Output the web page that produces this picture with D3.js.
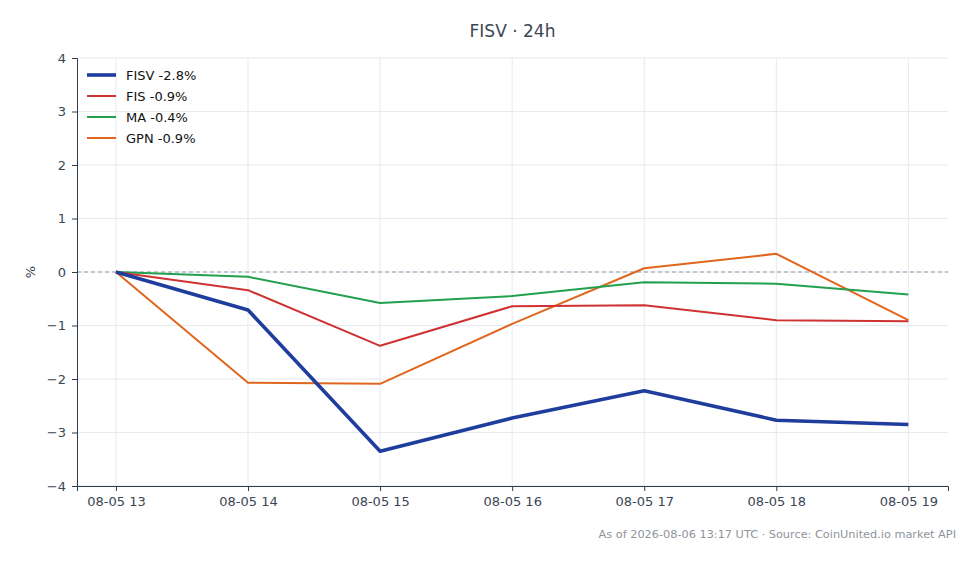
<!DOCTYPE html>
<html>
<head>
<meta charset="utf-8">
<script src="https://cdn.jsdelivr.net/npm/d3@7"></script>
<style>
  body { margin: 0; background: #fff; }
  text { font-family: "DejaVu Sans", sans-serif; }
</style>
</head>
<body>
<div class="chart"></div>
<script>
var hours = ["08-05 13", "08-05 14", "08-05 15", "08-05 16", "08-05 17", "08-05 18", "08-05 19"];
var fisv = [0, -0.71, -3.35, -2.73, -2.22, -2.77, -2.85];
var fis = [0, -0.34, -1.38, -0.64, -0.62, -0.90, -0.92];
var ma = [0, -0.09, -0.58, -0.45, -0.19, -0.22, -0.42];
var gpn = [0, -2.07, -2.09, -0.97, 0.07, 0.34, -0.90];
var yTicks = [-4, -3, -2, -1, 0, 1, 2, 3, 4];

var series = [
  { name: "FISV -2.8%", values: fisv, color: "#1f3d9c", width: 3.6 },
  { name: "FIS -0.9%", values: fis, color: "#cf3232", width: 2 },
  { name: "MA -0.4%", values: ma, color: "#23a04e", width: 2 },
  { name: "GPN -0.9%", values: gpn, color: "#e0661e", width: 2 }
];

var svgWidth = 980;
var svgHeight = 564;
var margin = { top: 58, right: 32, bottom: 78, left: 77 };
var width = svgWidth - margin.left - margin.right;
var height = svgHeight - margin.top - margin.bottom;

var svg = d3.select(".chart")
  .append("svg")
  .attr("width", svgWidth)
  .attr("height", svgHeight);

var chartGroup = svg.append("g")
  .attr("transform", `translate(${margin.left}, ${margin.top})`);

var x = d3.scaleLinear()
  .domain([-0.295, hours.length - 1 + 0.3])
  .range([0, width]);

var y = d3.scaleLinear()
  .domain([-4, 4])
  .range([height, 0]);

// grid
chartGroup.append("g").selectAll("line")
  .data(hours).enter().append("line")
  .attr("x1", (d, i) => x(i)).attr("x2", (d, i) => x(i))
  .attr("y1", 0).attr("y2", height)
  .attr("stroke", "#e6e9ee").attr("stroke-width", 1);

chartGroup.append("g").selectAll("line")
  .data(yTicks).enter().append("line")
  .attr("x1", 0).attr("x2", width)
  .attr("y1", d => y(d)).attr("y2", d => y(d))
  .attr("stroke", "#e6e9ee").attr("stroke-width", 1);

// zero line
chartGroup.append("line")
  .attr("x1", 0).attr("x2", width)
  .attr("y1", y(0)).attr("y2", y(0))
  .attr("stroke", "#8c9aae")
  .attr("stroke-width", 1)
  .attr("stroke-dasharray", "4,3");

// axes
var bottomAxis = d3.axisBottom(x)
  .tickValues(d3.range(hours.length))
  .tickFormat(i => hours[i])
  .tickSizeOuter(0)
  .tickSize(5)
  .tickPadding(6);
var leftAxis = d3.axisLeft(y)
  .tickValues(yTicks)
  .tickFormat(d => d < 0 ? "\u2212" + Math.abs(d) : d)
  .tickSizeOuter(0)
  .tickSize(5)
  .tickPadding(6);

var xg = chartGroup.append("g")
  .attr("transform", `translate(0, ${height})`)
  .call(bottomAxis);
var yg = chartGroup.append("g")
  .call(leftAxis);

[xg, yg].forEach(function(g) {
  g.selectAll("path, line").attr("stroke", "#2f3b4c");
  g.selectAll("text")
    .attr("fill", "#3c4654")
    .attr("font-size", "13px")
    .attr("font-family", "DejaVu Sans, sans-serif");
});

// lines
var line = d3.line()
  .x((d, i) => x(i))
  .y(d => y(d));

chartGroup.selectAll(".series")
  .data(series.slice().reverse())
  .enter()
  .append("path")
  .attr("d", d => line(d.values))
  .attr("fill", "none")
  .attr("stroke", d => d.color)
  .attr("stroke-width", d => d.width)
  .attr("stroke-linejoin", "round");

// legend
var legend = chartGroup.selectAll(".legend")
  .data(series)
  .enter()
  .append("g")
  .attr("transform", (d, i) => `translate(10, ${17 + i * 21})`);

legend.append("line")
  .attr("x1", 0).attr("x2", 29)
  .attr("stroke", d => d.color)
  .attr("stroke-width", d => d.width);

legend.append("text")
  .attr("x", 39)
  .attr("dy", "0.35em")
  .attr("font-size", "13px")
  .attr("fill", "#111")
  .text(d => d.name);

// title and labels
svg.append("text")
  .attr("x", margin.left + width / 2)
  .attr("y", 37)
  .attr("text-anchor", "middle")
  .attr("font-size", "17px")
  .attr("fill", "#3c4654")
  .text("FISV \u00b7 24h");

svg.append("text")
  .attr("transform", `translate(35, ${margin.top + y(0)}) rotate(-90)`)
  .attr("text-anchor", "middle")
  .attr("font-size", "13px")
  .attr("fill", "#3c4654")
  .text("%");

svg.append("text")
  .attr("x", 956)
  .attr("y", 538)
  .attr("text-anchor", "end")
  .attr("font-size", "11.3px")
  .attr("fill", "#8f949c")
  .text("As of 2026-08-06 13:17 UTC \u00b7 Source: CoinUnited.io market API");
</script>
</body>
</html>
